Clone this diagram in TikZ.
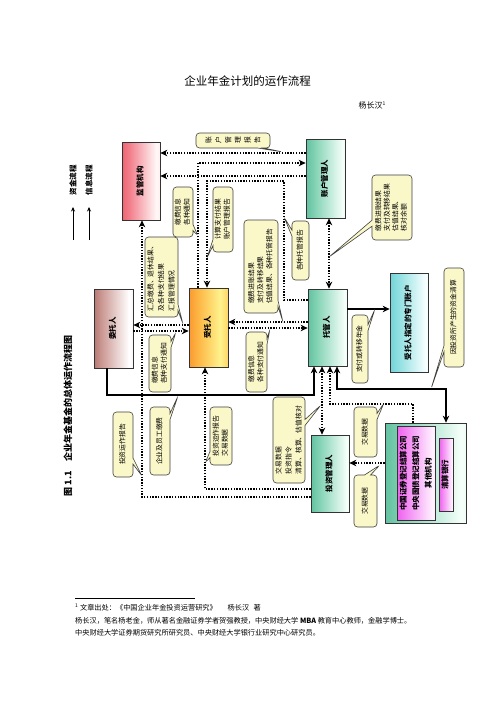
\documentclass[tikz,border=0pt]{standalone}
\usepackage{fontspec}
\usepackage{graphicx}
\setmainfont{Noto Sans CJK SC}
\usetikzlibrary{arrows.meta,shapes.callouts}
\definecolor{cfill}{RGB}{250,247,200}
\pgfdeclarehorizontalshading{redsh}{100bp}{rgb(0bp)=(0.9,0.12,0.16); rgb(35bp)=(0.95,0.5,0.55); rgb(70bp)=(1,0.97,0.97); rgb(82bp)=(1,0.9,0.9); rgb(100bp)=(0.88,0.12,0.16)}
\pgfdeclarehorizontalshading{brownsh}{100bp}{rgb(0bp)=(0.5,0.15,0.1); rgb(35bp)=(0.8,0.6,0.58); rgb(70bp)=(1,1,1); rgb(82bp)=(0.95,0.9,0.9); rgb(100bp)=(0.5,0.16,0.12)}
\pgfdeclarehorizontalshading{orangesh}{100bp}{rgb(0bp)=(0.95,0.35,0.05); rgb(35bp)=(0.99,0.7,0.25); rgb(65bp)=(1,0.95,0.55); rgb(82bp)=(0.99,0.75,0.3); rgb(100bp)=(0.93,0.4,0.08)}
\pgfdeclarehorizontalshading{greensh}{100bp}{rgb(0bp)=(0.1,0.6,0.45); rgb(35bp)=(0.5,0.82,0.7); rgb(72bp)=(0.96,1,0.98); rgb(84bp)=(0.85,0.95,0.9); rgb(100bp)=(0.15,0.62,0.48)}
\pgfdeclarehorizontalshading{cyansh}{100bp}{rgb(0bp)=(0.2,0.72,0.74); rgb(35bp)=(0.55,0.87,0.88); rgb(72bp)=(0.97,1,1); rgb(84bp)=(0.85,0.96,0.97); rgb(100bp)=(0.22,0.74,0.78)}
\pgfdeclarehorizontalshading{magsh}{100bp}{rgb(0bp)=(0.88,0.1,0.88); rgb(35bp)=(0.95,0.5,0.95); rgb(72bp)=(1,0.95,1); rgb(84bp)=(0.97,0.8,0.97); rgb(100bp)=(0.88,0.15,0.88)}
\newcommand\vtext[1]{\rotatebox{90}{\begin{tabular}{@{}l@{}}#1\end{tabular}}}
\newcommand\vctext[1]{\rotatebox{90}{\begin{tabular}{@{}c@{}}#1\end{tabular}}}
\newcommand\rch[1]{\rotatebox{90}{#1}}
\tikzset{
  box/.style={draw=black!80, line width=0.7pt, inner sep=0pt, font=\fontsize{7.5}{9}\selectfont\bfseries},
  call/.style={rectangle callout, rounded corners=3.5pt, draw=black!75, line width=0.6pt, fill=cfill, inner sep=0pt, callout pointer width=6pt, font=\fontsize{6.8}{9}\selectfont},
  info/.style={line width=1.4pt, dash pattern=on 1.4pt off 1.4pt},
  fund/.style={line width=1.5pt},
  tip/.style={-{Stealth[length=7pt,width=6.5pt]}},
  tips/.style={{Stealth[length=7pt,width=6.5pt]}-{Stealth[length=7pt,width=6.5pt]}},
  legarrow/.style={line width=0.7pt, -{Stealth[length=4.5pt,width=4pt]}},
  plain/.style={inner sep=0pt}
}
\begin{document}
\begin{tikzpicture}[x=1pt,y=-1pt]
\fill[white] (0,0) rectangle (496,702);
\useasboundingbox (0,0) rectangle (496,702);

% title and author
\node[plain, font=\fontsize{11.5}{13}\selectfont] (title) at (247.5,81) {企业年金计划的运作流程};
\node[plain, anchor=east, font=\fontsize{8}{9}\selectfont] (author) at (386,105) {杨长汉\textsuperscript{\tiny 1}};

% caption
\node[plain, font=\fontsize{9}{10}\selectfont\bfseries] (caption) at (68,416) {\rotatebox{90}{图 1.1\quad 企业年金基金的总体运作流程图}};

% legend
\node[plain, font=\fontsize{7.5}{9}\selectfont\bfseries] (leg1) at (73,180) {\rotatebox{90}{资金流程}};
\node[plain, font=\fontsize{7.5}{9}\selectfont\bfseries] (leg2) at (89,180) {\rotatebox{90}{信息流程}};
\coordinate (la1) at (73,240); \coordinate (la1t) at (73,207);
\coordinate (la2) at (89,240); \coordinate (la2t) at (89,207);
\draw[legarrow] (la1) -- (la1t);
\draw[legarrow] (la2) -- (la2t);

% boxes
\node[box, shading=redsh, minimum width=38pt, minimum height=78pt] (jg) at (141,181) {\vtext{监管机构}};
\node[box, shading=brownsh, minimum width=39pt, minimum height=79pt] (wt) at (113.5,328.5) {\vtext{委托人}};
\node[box, shading=orangesh, minimum width=39pt, minimum height=79pt] (st) at (208.5,327.5) {\vtext{受托人}};
\node[box, shading=greensh, minimum width=39pt, minimum height=79pt] (zh) at (325.5,178.5) {\vtext{账户管理人}};
\node[box, shading=greensh, minimum width=39pt, minimum height=77pt] (tg) at (327.5,327.5) {\vtext{托管人}};
\node[box, shading=greensh, minimum width=38pt, minimum height=77pt] (tz) at (330,473.5) {\vtext{投资管理人}};
\node[box, shading=cyansh, minimum width=38pt, minimum height=99pt] (zm) at (409,322.5) {\vtext{受托人指定的专门账户}};
\node[box, shading=greensh, minimum width=81pt, minimum height=100pt] (dj) at (425.5,473) {};
\node[box, shading=magsh, minimum width=38pt, minimum height=94pt, font=\fontsize{7.5}{12.5}\selectfont\bfseries] (djin) at (416,473) {\vctext{中国证券登记结算公司\\中央国债登记结算公司\\其他机构}};
\node[box, shading=magsh, minimum width=14pt, minimum height=73pt] (qs) at (446,474.5) {\vtext{清算银行}};

% connectors: information flow
\draw[info,tip] (zh.west |- 0,153) -- (jg.east |- 0,153);
\draw[info,tip] (198,0 |- st.north) -- (198,163) -- (zh.west |- 0,163);
\draw[info,tip] (zh.west |- 0,176) -- (jg.east |- 0,176);
\draw[info,tip] (tg.west |- 0,300) -- (284,300) -- (284,181) -- (207,181) -- (207,0 |- st.north);
\draw[info,tips] (329,0 |- zh.south) -- (329,0 |- tg.north);
\draw[info,tip] (st.west |- 0,325) -- (wt.east |- 0,325);
\draw[info,tip] (wt.east |- 0,331) -- (st.west |- 0,331);
\draw[info,tip] (tg.west |- 0,322) -- (st.east |- 0,322);
\draw[info,tip] (st.east |- 0,328) -- (tg.west |- 0,328);
\draw[info,tips] (322,0 |- tg.south) -- (322,0 |- tz.north);
\draw[info,tip] (413,0 |- dj.north) -- (413,404) -- (330,404) -- (330,0 |- tg.south);
\draw[info,tip] (dj.west |- 0,463) -- (tz.east |- 0,463);
\draw[info,tip] (tz.west |- 0,489) -- (205,489) -- (205,0 |- st.south);
\draw[info,tip] (tz.west |- 0,497) -- (142,497) -- (142,0 |- jg.south);

% connectors: fund flow
\draw[fund,tip] (107,0 |- wt.south) -- (107,395) -- (314,395) -- (314,0 |- tg.south);
\draw[fund,tips] (337,0 |- tg.south) -- (337,389) -- (446,389) -- (446,0 |- dj.north);
\draw[fund,tip] (tg.east |- 0,309) -- (zm.west |- 0,309);

% callouts
\node[call, minimum width=74pt, minimum height=15pt, callout absolute pointer={(283,152)}] (c1) at (233,140.5)
  {\rch{账}\hspace{3.6pt}\rch{户}\hspace{3.6pt}\rch{管}\hspace{3.6pt}\rch{理}\hspace{3.6pt}\rch{报}\hspace{3.6pt}\rch{告}};
\node[call, minimum width=20pt, minimum height=50pt, callout absolute pointer={(198,236)}] (c2) at (183,212) {\vtext{缴费信息\\各种通知}};
\node[call, minimum width=20pt, minimum height=65pt, callout absolute pointer={(207,258)}] (c3) at (223,219.5) {\vtext{计算支付结果\\账户管理报告}};
\node[call, minimum width=33pt, minimum height=80pt, font=\fontsize{6.8}{10.5}\selectfont, callout absolute pointer={(183,324)}] (c4) at (161.5,277) {\vtext{汇总缴费、退休结果、\\及各种支付结果\\汇报管理情况}};
\node[call, minimum width=22pt, minimum height=57pt, callout absolute pointer={(176,332)}] (c5) at (160,363.5) {\vtext{缴费信息\\各种支付通知}};
\node[call, minimum width=20pt, minimum height=68pt, callout absolute pointer={(178,396)}] (c6) at (160,441) {\vtext{企业及员工缴费}};
\node[call, minimum width=20pt, minimum height=65pt, callout absolute pointer={(142,476)}] (c7) at (123,444.5) {\vtext{投资运作报告}};
\node[call, minimum width=22pt, minimum height=58pt, callout absolute pointer={(205,463)}] (c8) at (221,436) {\vtext{投资运作报告\\交易数据}};
\node[call, minimum width=21pt, minimum height=60pt, callout absolute pointer={(270,329)}] (c9) at (256.5,362) {\vtext{缴费信息\\各种支付通知}};
\node[call, minimum width=34pt, minimum height=93pt, callout absolute pointer={(283,322)}] (c10) at (261,266.5) {\vtext{缴费进账结果\\支付及转移结果\\估值结果、各种托管报告}};
\node[call, minimum width=17pt, minimum height=59pt, callout absolute pointer={(284,217)}] (c11) at (300.5,250.5) {\vtext{各种托管报告}};
\node[call, minimum width=40pt, minimum height=65pt, font=\fontsize{6.8}{8.5}\selectfont, callout absolute pointer={(329,257)}] (c12) at (392,207.5) {\vtext{缴费进账结果\\支付及转移结果\\估值结果、\\核对余额}};
\node[call, minimum width=16pt, minimum height=68pt, callout absolute pointer={(375,309)}] (c13) at (360,349) {\vtext{支付或转移年金}};
\node[call, minimum width=20pt, minimum height=99pt, callout absolute pointer={(431,389)}] (c14) at (454,317.5) {\vtext{因投资所产生的资金清算}};
\node[call, minimum width=32pt, minimum height=86pt, font=\fontsize{6.8}{10}\selectfont, callout absolute pointer={(321,405)}] (c15) at (289,440) {\vtext{交易数据\\投资指令\\清算、核算、估值核对}};
\node[call, minimum width=23pt, minimum height=50pt, callout absolute pointer={(384,403)}] (c16) at (365.5,432) {\vtext{交易数据}};
\node[call, minimum width=23pt, minimum height=52pt, callout absolute pointer={(380,465)}] (c17) at (365.5,501) {\vtext{交易数据}};

% footnote
\coordinate (fl1) at (75,598); \coordinate (fl2) at (195,598);
\draw[line width=0.6pt] (fl1) -- (fl2);
\node[plain, anchor=west, font=\fontsize{7.2}{9}\selectfont] (fn1) at (75,608) {\textsuperscript{\tiny 1} 文章出处：《中国企业年金投资运营研究》\hspace{1.5em}杨长汉\hspace{0.6em}著};
\node[plain, anchor=west, font=\fontsize{7.2}{9}\selectfont] (fn2) at (75,621) {杨长汉，笔名杨老金，师从著名金融证券学者贺强教授，中央财经大学 \textbf{MBA} 教育中心教师，金融学博士。};
\node[plain, anchor=west, font=\fontsize{7.2}{9}\selectfont] (fn3) at (75,633) {中央财经大学证券期货研究所研究员、中央财经大学银行业研究中心研究员。};
\end{tikzpicture}
\end{document}
